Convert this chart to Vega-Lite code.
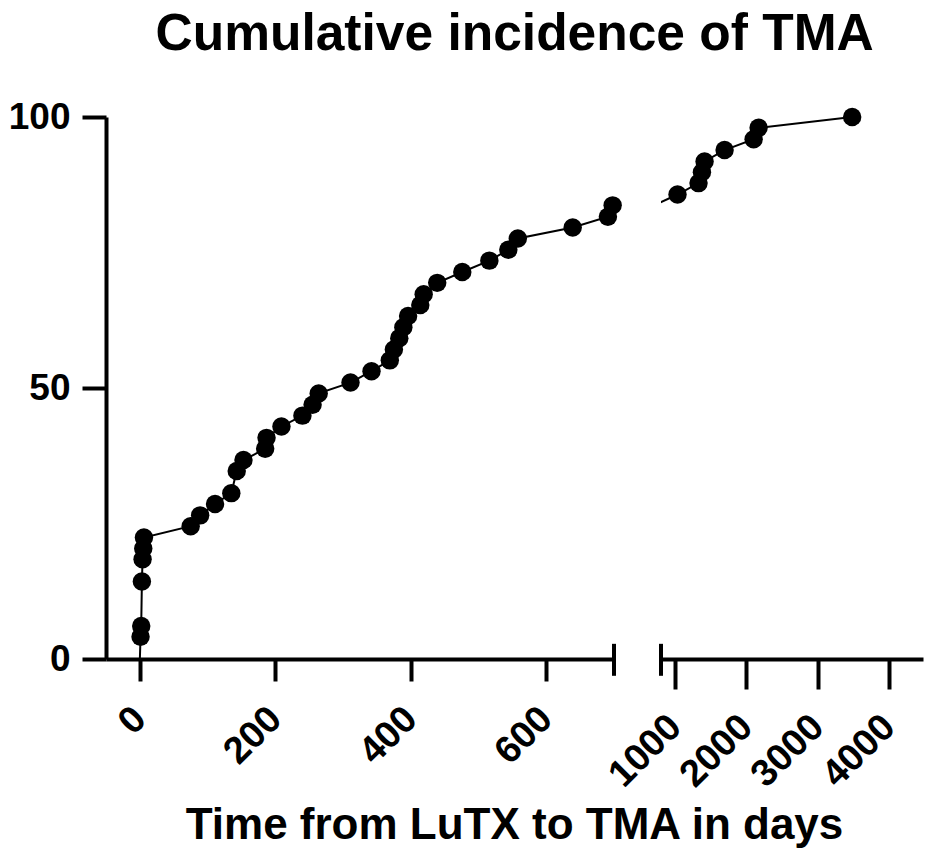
{
  "$schema": "https://vega.github.io/schema/vega-lite/v6.json",
  "background": "white",
  "padding": {"left": 8, "top": 8, "right": 5, "bottom": 5},
  "title": {
    "text": "Cumulative incidence of TMA",
    "font": "Liberation Sans",
    "fontWeight": "bold",
    "fontSize": 51.5,
    "color": "black",
    "anchor": "middle",
    "dx": 49,
    "offset": 38
  },
  "config": {
    "view": {"stroke": null},
    "axis": {
      "grid": false,
      "domainColor": "black",
      "domainWidth": 4,
      "tickColor": "black",
      "tickWidth": 4,
      "labelColor": "black",
      "labelFont": "Liberation Sans",
      "labelFontWeight": "bold",
      "labelFontSize": 38,
      "titleColor": "black",
      "titleFont": "Liberation Sans",
      "titleFontWeight": "bold",
      "titleFontSize": 44
    }
  },
  "datasets": {
    "tma": [
      {"days": 0, "pct": 0},
      {"days": 1, "pct": 4.1},
      {"days": 2, "pct": 6.1},
      {"days": 3, "pct": 14.3},
      {"days": 4, "pct": 18.4},
      {"days": 5, "pct": 20.4},
      {"days": 6, "pct": 22.4},
      {"days": 75, "pct": 24.5},
      {"days": 89, "pct": 26.5},
      {"days": 111, "pct": 28.6},
      {"days": 135, "pct": 30.6},
      {"days": 143, "pct": 34.7},
      {"days": 153, "pct": 36.7},
      {"days": 185, "pct": 38.8},
      {"days": 187, "pct": 40.8},
      {"days": 209, "pct": 42.9},
      {"days": 240, "pct": 44.9},
      {"days": 255, "pct": 46.9},
      {"days": 264, "pct": 49.0},
      {"days": 311, "pct": 51.0},
      {"days": 342, "pct": 53.1},
      {"days": 369, "pct": 55.1},
      {"days": 375, "pct": 57.1},
      {"days": 383, "pct": 59.2},
      {"days": 389, "pct": 61.2},
      {"days": 396, "pct": 63.3},
      {"days": 414, "pct": 65.3},
      {"days": 419, "pct": 67.3},
      {"days": 439, "pct": 69.4},
      {"days": 476, "pct": 71.4},
      {"days": 516, "pct": 73.5},
      {"days": 544, "pct": 75.5},
      {"days": 558, "pct": 77.6},
      {"days": 639, "pct": 79.6},
      {"days": 691, "pct": 81.6},
      {"days": 698, "pct": 83.7},
      {"days": 1032, "pct": 85.7},
      {"days": 1327, "pct": 87.8},
      {"days": 1375, "pct": 89.8},
      {"days": 1412, "pct": 91.8},
      {"days": 1693, "pct": 93.9},
      {"days": 2101, "pct": 95.9},
      {"days": 2171, "pct": 98.0},
      {"days": 3485, "pct": 100}
    ],
    "breaks": [
      {"days": 700, "lo": -3.1, "hi": 2.8},
      {"days": 800, "lo": -3.1, "hi": 2.8}
    ]
  },
  "bounds": "flush",
  "spacing": 47,
  "resolve": {"scale": {"x": "independent", "y": "independent"}},
  "hconcat": [
    {
      "width": 508,
      "height": 542,
      "encoding": {
        "x": {
          "field": "days",
          "type": "quantitative",
          "scale": {"domain": [-50, 700], "nice": false, "zero": false},
          "axis": {
            "values": [0, 200, 400, 600],
            "format": "d",
            "tickSize": 22,
            "labelAngle": -45,
            "labelAlign": "right",
            "labelBaseline": "middle",
            "labelPadding": 32,
            "labelOverlap": false,
            "title": "Time from LuTX to TMA in days",
            "titleX": 408,
            "titleY": 179,
            "titleAlign": "center",
            "titleBaseline": "alphabetic",
            "titleAnchor": null
          }
        },
        "y": {
          "field": "pct",
          "type": "quantitative",
          "scale": {"domain": [0, 100], "nice": false},
          "axis": {
            "values": [0, 50, 100],
            "tickSize": 24,
            "labelPadding": 12,
            "labelFontSize": 37,
            "title": null
          }
        }
      },
      "layer": [
        {
          "data": {"name": "tma"},
          "transform": [{"filter": "datum.days <= 1100"}],
          "mark": {"type": "line", "color": "black", "strokeWidth": 2, "clip": true}
        },
        {
          "data": {"name": "tma"},
          "transform": [{"filter": "datum.days <= 700 && datum.pct > 0"}],
          "mark": {"type": "circle", "color": "black", "opacity": 1, "size": 340}
        },
        {
          "data": {"name": "breaks"},
          "transform": [{"filter": "datum.days == 700"}],
          "mark": {"type": "rule", "color": "black", "strokeWidth": 4},
          "encoding": {
            "y": {"field": "hi", "type": "quantitative"},
            "y2": {"field": "lo"}
          }
        }
      ]
    },
    {
      "width": 262,
      "height": 542,
      "encoding": {
        "x": {
          "field": "days",
          "type": "quantitative",
          "scale": {"domain": [800, 4480], "nice": false, "zero": false},
          "axis": {
            "values": [1000, 2000, 3000, 4000],
            "format": "d",
            "tickSize": 30,
            "labelAngle": -45,
            "labelAlign": "right",
            "labelBaseline": "middle",
            "labelPadding": 32,
            "labelOverlap": false,
            "title": null
          }
        },
        "y": {
          "field": "pct",
          "type": "quantitative",
          "scale": {"domain": [0, 100], "nice": false},
          "axis": null
        }
      },
      "layer": [
        {
          "data": {"name": "tma"},
          "transform": [{"filter": "datum.days >= 690"}],
          "mark": {"type": "line", "color": "black", "strokeWidth": 2, "clip": true}
        },
        {
          "data": {"name": "tma"},
          "transform": [{"filter": "datum.days >= 1000"}],
          "mark": {"type": "circle", "color": "black", "opacity": 1, "size": 340}
        },
        {
          "data": {"name": "breaks"},
          "transform": [{"filter": "datum.days == 800"}],
          "mark": {"type": "rule", "color": "black", "strokeWidth": 4},
          "encoding": {
            "y": {"field": "hi", "type": "quantitative"},
            "y2": {"field": "lo"}
          }
        }
      ]
    }
  ]
}
